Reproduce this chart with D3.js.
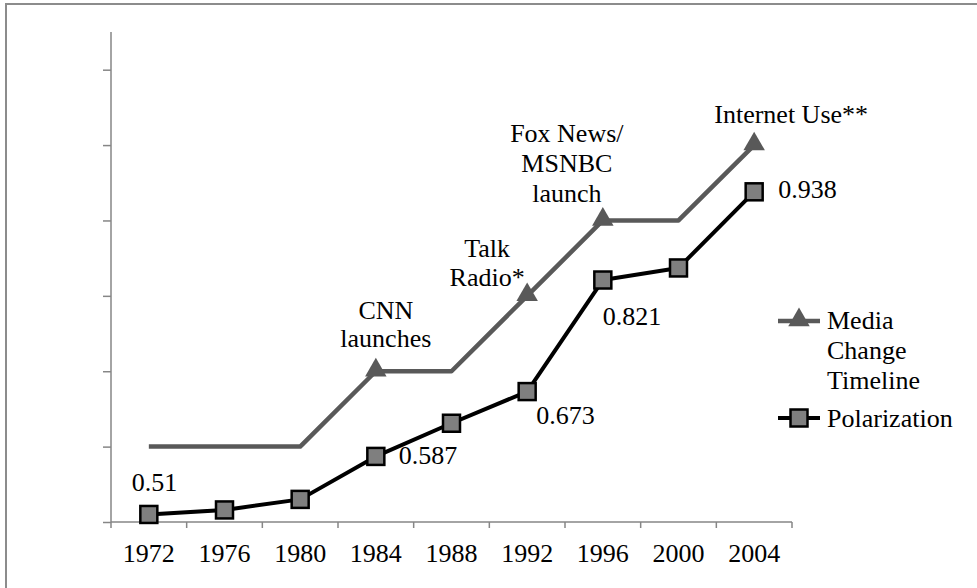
<!DOCTYPE html>
<html>
<head>
<meta charset="utf-8">
<script src="https://cdn.jsdelivr.net/npm/d3@7/dist/d3.min.js"></script>
<style>
  html, body { margin: 0; padding: 0; background: #fff; }
  svg text { font-family: "Liberation Serif", "Times New Roman", serif; fill: #000; }
</style>
</head>
<body>
<svg id="chart" width="977" height="588"></svg>
<script>
// ---- data ----
const years = ["1972", "1976", "1980", "1984", "1988", "1992", "1996", "2000", "2004"];
const polarization = [0.51, 0.516, 0.53, 0.587, 0.631, 0.673, 0.821, 0.837, 0.938];
const mediaTimeline = [0.6, 0.6, 0.6, 0.7, 0.7, 0.8, 0.9, 0.9, 1.0];
const mediaMarkerYears = ["1984", "1992", "1996", "2004"];
const yTicks = [0.5, 0.6, 0.7, 0.8, 0.9, 1.0, 1.1];
const valueLabels = [
  { year: "1972", text: "0.51" },
  { year: "1984", text: "0.587" },
  { year: "1992", text: "0.673" },
  { year: "1996", text: "0.821" },
  { year: "2004", text: "0.938" }
];
const mediaEvents = [
  { year: "1984", lines: ["CNN", "launches"] },
  { year: "1992", lines: ["Talk", "Radio*"] },
  { year: "1996", lines: ["Fox News/", "MSNBC", "launch"] },
  { year: "2004", lines: ["Internet Use**"] }
];
const legendItems = [
  { lines: ["Media", "Change", "Timeline"], type: "media" },
  { lines: ["Polarization"], type: "polar" }
];

// ---- layout ----
const svg = d3.select("#chart");
const pLeft = 111, pRight = 792, pTop = 32, pBottom = 522;
const FS = 26;
const axisColor = "#868686";
const mediaColor = "#595959";
const markerFill = "#7f7f7f";

// frame
svg.append("rect").attr("x", 6).attr("y", 4).attr("width", 1000).attr("height", 700)
  .attr("fill", "none").attr("stroke", "#8c8c8c").attr("stroke-width", 2);

const x = d3.scaleBand().domain(years).range([pLeft, pRight]);
const y = d3.scaleLinear().domain([0.5, 1.15]).range([pBottom, pTop]);
const cx = d => x(d) + x.bandwidth() / 2;

// y axis
const yAxis = d3.axisLeft(y).tickValues(yTicks).tickSize(8).tickFormat("");
const gy = svg.append("g").attr("transform", `translate(${pLeft},0)`).call(yAxis);
gy.select(".domain").attr("stroke", axisColor).attr("stroke-width", 1.5).attr("d", `M0,${pTop}V${pBottom}`);
gy.selectAll(".tick line").attr("stroke", axisColor).attr("stroke-width", 1.5);

// x axis
const xAxis = d3.axisBottom(x).tickSize(0).tickSizeOuter(0);
const gx = svg.append("g").attr("transform", `translate(0,${pBottom})`).call(xAxis);
gx.select(".domain").attr("stroke", axisColor).attr("stroke-width", 1.5).attr("d", `M${pLeft},0H${pRight}`);
gx.selectAll(".tick text").attr("font-size", FS).attr("dy", 0).attr("y", 40)
  .style("font-family", "'Liberation Serif', serif").attr("fill", "#000");
// band-boundary ticks
const bounds = years.map(d => x(d)).concat([pRight]);
gx.selectAll(".btick").data(bounds).enter().append("line")
  .attr("x1", d => d).attr("x2", d => d).attr("y1", 0).attr("y2", 6)
  .attr("stroke", axisColor).attr("stroke-width", 1.5);

// lines
const lineGen = (vals) => d3.line().x((d, i) => cx(years[i])).y(d => y(d))(vals);
svg.append("path").attr("d", lineGen(mediaTimeline)).attr("fill", "none")
  .attr("stroke", mediaColor).attr("stroke-width", 4.5).attr("stroke-linejoin", "round");
svg.append("path").attr("d", lineGen(polarization)).attr("fill", "none")
  .attr("stroke", "#000").attr("stroke-width", 4).attr("stroke-linejoin", "round");

// triangle markers
const tri = d3.symbol().type(d3.symbolTriangle).size(200);
svg.selectAll(".tri").data(mediaMarkerYears).enter().append("path")
  .attr("d", tri).attr("fill", mediaColor)
  .attr("transform", d => `translate(${cx(d)},${y(mediaTimeline[years.indexOf(d)]) - 1})`);

// square markers
const sq = 17;
svg.selectAll(".sq").data(years).enter().append("rect")
  .attr("x", d => cx(d) - sq / 2).attr("y", (d, i) => y(polarization[i]) - sq / 2)
  .attr("width", sq).attr("height", sq)
  .attr("fill", markerFill).attr("stroke", "#000").attr("stroke-width", 2.5);

// value labels
const valueOffsets = {
  "1972": [-17, -23], "1984": [23, 8], "1992": [9, 32], "1996": [0, 45], "2004": [24, 6]
};
valueLabels.forEach(v => {
  const i = years.indexOf(v.year);
  const o = valueOffsets[v.year];
  svg.append("text").attr("x", cx(v.year) + o[0]).attr("y", y(polarization[i]) + o[1])
    .attr("font-size", FS).text(v.text);
});

// event annotations: [dx of block centre, dy of last baseline, line spacing]
const eventOffsets = {
  "1984": [10, -24, 28], "1992": [-40, -10, 29], "1996": [-36, -18, 30], "2004": [37, -22, 30]
};
mediaEvents.forEach(e => {
  const i = years.indexOf(e.year);
  const o = eventOffsets[e.year];
  const n = e.lines.length;
  e.lines.forEach((ln, k) => {
    svg.append("text").attr("x", cx(e.year) + o[0])
      .attr("y", y(mediaTimeline[i]) + o[1] - (n - 1 - k) * o[2])
      .attr("text-anchor", "middle").attr("font-size", FS).text(ln);
  });
});

// legend
const lg = svg.append("g");
const legX0 = 778, legX1 = 820, legTextX = 827;
lg.append("line").attr("x1", legX0).attr("x2", legX1).attr("y1", 321).attr("y2", 321)
  .attr("stroke", mediaColor).attr("stroke-width", 4.5);
lg.append("path").attr("d", tri).attr("fill", mediaColor).attr("transform", `translate(${(legX0 + legX1) / 2},320)`);
legendItems[0].lines.forEach((ln, k) => {
  lg.append("text").attr("x", legTextX).attr("y", 329 + k * 30).attr("font-size", FS).text(ln);
});
lg.append("line").attr("x1", legX0).attr("x2", legX1).attr("y1", 418).attr("y2", 418)
  .attr("stroke", "#000").attr("stroke-width", 4);
lg.append("rect").attr("x", (legX0 + legX1) / 2 - sq / 2).attr("y", 418 - sq / 2)
  .attr("width", sq).attr("height", sq).attr("fill", markerFill).attr("stroke", "#000").attr("stroke-width", 2.5);
legendItems[1].lines.forEach((ln, k) => {
  lg.append("text").attr("x", legTextX).attr("y", 427 + k * 30).attr("font-size", FS).text(ln);
});
</script>
</body>
</html>
